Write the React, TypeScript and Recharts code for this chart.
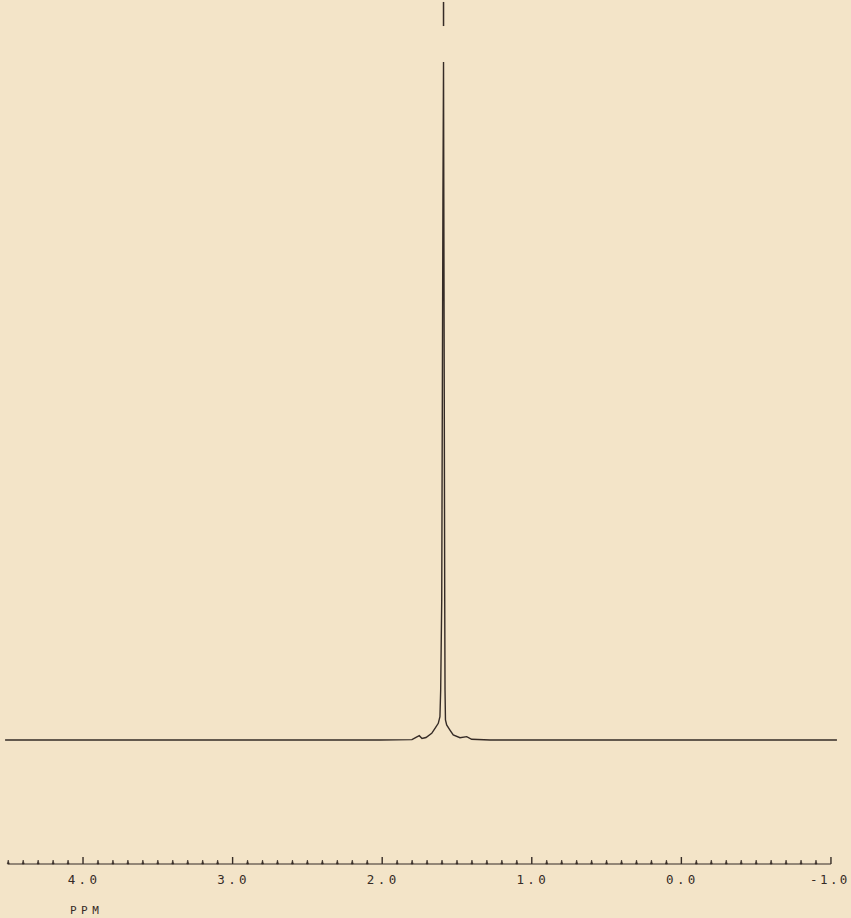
import { LineChart, Line, XAxis, YAxis, ReferenceLine } from 'recharts';

// chemical shift (ppm) and relative intensity (% of the main peak)
const shifts = [
  4.521, 3.2, 2.015, 1.801, 1.774, 1.752, 1.734, 1.707, 1.669, 1.647, 1.625, 1.614,
  1.609, 1.602, 1.598, 1.594, 1.59, 1.588, 1.585, 1.582, 1.58, 1.577, 1.569, 1.547,
  1.525, 1.48, 1.435, 1.402, 1.279, 0.2, -1.04,
];
const intensities = [
  0, 0, 0, 0.05, 0.4, 0.63, 0.22, 0.37, 0.99, 1.73, 2.46, 3.44,
  7.37, 20.6, 50.1, 79.6, 100, 79.6, 50.1, 20.6, 7.37, 2.95, 2.21, 1.47,
  0.74, 0.34, 0.49, 0.1, 0, 0, 0,
];

const majorTicks = [4, 3, 2, 1, 0, -1];
const majorLabels = ['4.0', '3.0', '2.0', '1.0', '0.0', '-1.0'];
const axisStart = 4.5;
const axisEnd = -1.0;
const markerShift = 1.59;

const spectrum = shifts.map((ppm, i) => ({ ppm, value: intensities[i] }));
const allTicks = Array.from({ length: 56 }, (_, i) => Math.round((axisStart - i * 0.1) * 10) / 10);

const ink = '#352b26';
const Y_MIN = -18.29;
const Y_MAX = 109.14;

function AxisTick(props: any) {
  const { x, y, payload } = props;
  const v = payload.value;
  const idx = majorTicks.findIndex((m) => Math.abs(m - v) < 1e-6);
  if (idx < 0) {
    return <path d={`M${x - 1},${y} L${x},${y - 4} L${x + 1},${y} Z`} fill={ink} stroke={ink} strokeWidth={0.6} />;
  }
  const last = idx === majorTicks.length - 1;
  return (
    <g>
      <line x1={x} y1={y} x2={x} y2={y - 7} stroke={ink} strokeWidth={1.4} />
      <text
        x={last ? x - 1 : x + 1}
        y={y + 20}
        textAnchor="middle"
        fontFamily="'DejaVu Sans Mono', monospace"
        fontSize={12.5}
        letterSpacing={last ? 2.4 : 3.4}
        fill={ink}
      >
        {majorLabels[idx]}
      </text>
    </g>
  );
}

function PpmLabel(props: any) {
  const { viewBox } = props;
  return (
    <text
      x={viewBox.x + 70}
      y={viewBox.y + 50}
      fontFamily="'DejaVu Sans Mono', monospace"
      fontSize={11}
      letterSpacing={4.5}
      fill={ink}
    >
      PPM
    </text>
  );
}

export default function App() {
  return (
    <div style={{ position: 'absolute', left: 0, top: 0, width: 851, height: 918, background: '#f3e4c8' }}>
      <LineChart width={851} height={918} data={spectrum} margin={{ top: 0, right: 0, bottom: 0, left: 0 }}>
        <XAxis
          dataKey="ppm"
          type="number"
          domain={[-1.134, 4.555]}
          reversed
          allowDataOverflow
          ticks={allTicks}
          interval={0}
          tick={<AxisTick />}
          tickLine={false}
          axisLine={false}
          tickSize={0}
          tickMargin={0}
          height={54}
          label={{ content: <PpmLabel /> }}
        />
        <YAxis type="number" domain={[Y_MIN, Y_MAX]} hide allowDataOverflow />
        <ReferenceLine
          segment={[{ x: axisStart, y: Y_MIN }, { x: axisEnd, y: Y_MIN }]}
          stroke={ink}
          strokeWidth={1.2}
          ifOverflow="visible"
        />
        <ReferenceLine
          segment={[{ x: markerShift, y: 105.3 }, { x: markerShift, y: 108.85 }]}
          stroke={ink}
          strokeWidth={1.5}
          ifOverflow="visible"
        />
        <Line
          type="linear"
          dataKey="value"
          stroke={ink}
          strokeWidth={1.4}
          dot={false}
          activeDot={false}
          isAnimationActive={false}
        />
      </LineChart>
    </div>
  );
}
